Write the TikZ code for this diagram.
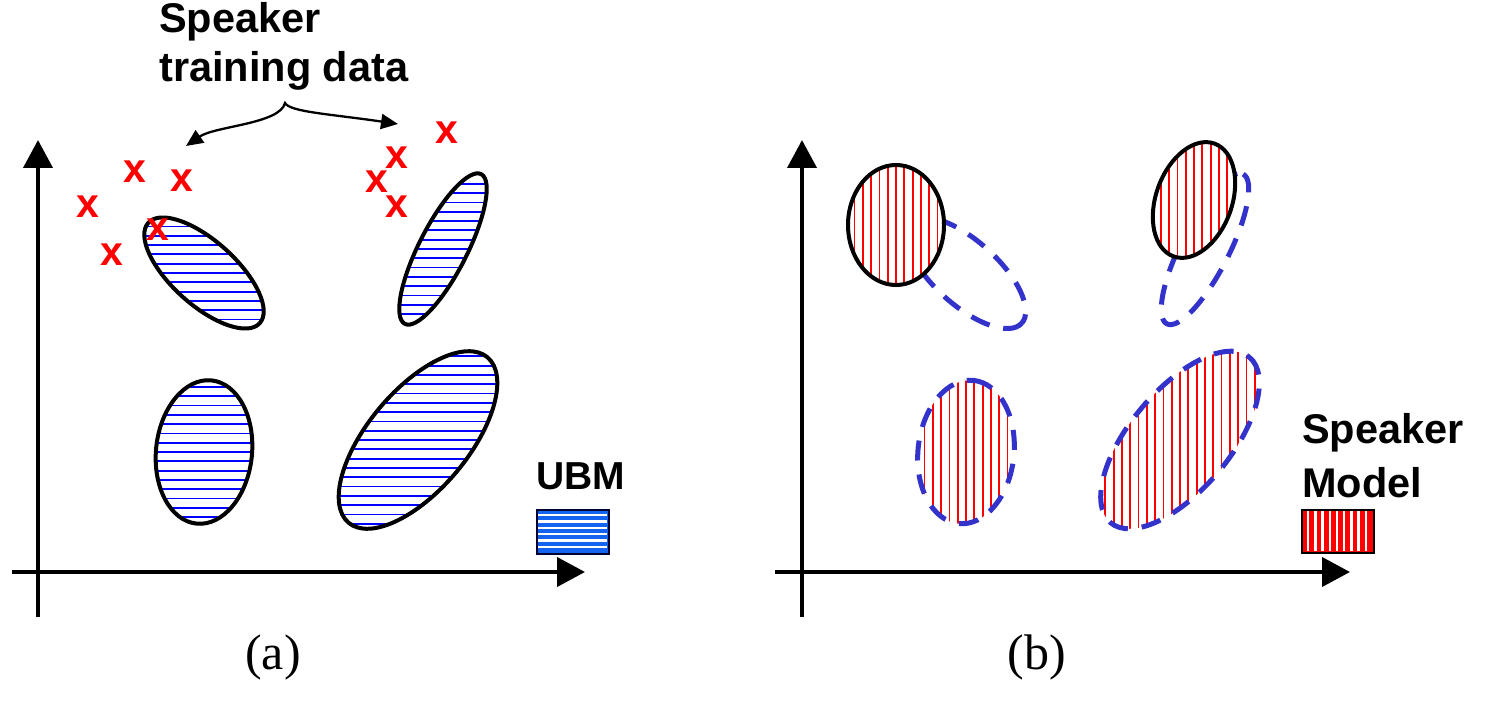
\documentclass[tikz,border=0pt]{standalone}
\usepackage{fontspec}
\setmainfont{Liberation Serif}
\newfontfamily\lsans{Liberation Sans}
\usetikzlibrary{arrows.meta}
\definecolor{hatchblue}{RGB}{0,0,255}
\definecolor{dashblue}{RGB}{51,51,204}
\definecolor{ubmblue}{RGB}{20,100,240}
\definecolor{spkred}{RGB}{255,0,0}
\tikzset{
  axis/.style={line width=4pt, -{Triangle[length=28pt,width=29pt]}},
  outline/.style={line width=4pt, draw=black},
  dashell/.style={line width=5pt, draw=dashblue, dash pattern=on 20pt off 14pt},
  hatchline/.style={line width=1.8pt, draw=hatchblue},
  stripeline/.style={line width=1.8pt, draw=spkred},
  label/.style={font=\lsans\bfseries\fontsize{41.5}{46}\selectfont, inner sep=0pt},
  shortlabel/.style={font=\lsans\bfseries\fontsize{39}{44}\selectfont, inner sep=0pt},
  cross/.style={font=\lsans\bfseries\fontsize{41}{44}\selectfont, text=spkred, inner sep=0pt},
  caption/.style={font=\fontsize{50}{56}\selectfont, inner sep=0pt},
  pointer/.style={line width=2.3pt, {Triangle[length=17pt,width=15pt]}-{Triangle[length=17pt,width=15pt]}},
}
% #1 cx, #2 cy, #3 a, #4 b, #5 angle
\newcommand{\hhatchell}[5]{%
  \begin{scope}
    \clip[rotate around={#5:(#1,#2)}] (#1,#2) ellipse (#3 and #4);
    \foreach \k in {-14,...,14} \draw[hatchline] (#1-130,#2+\k*9.3) -- ++(260,0);
  \end{scope}}
\newcommand{\vhatchell}[5]{%
  \begin{scope}
    \clip[rotate around={#5:(#1,#2)}] (#1,#2) ellipse (#3 and #4);
    \foreach \k in {-16,...,16} \draw[stripeline] (#1+\k*8.3,#2-130) -- ++(0,260);
  \end{scope}}
\newcommand{\ellpath}[6]{\draw[#6, rotate around={#5:(#1,#2)}] (#1,#2) ellipse (#3 and #4);}

\begin{document}
\begin{tikzpicture}[x=1pt,y=-1pt]
\useasboundingbox (0,0) rectangle (1493,703);

% ---------------- panel (a) ----------------
\draw[axis] (38,617) -- (38,140);
\draw[axis] (12,572) -- (585,572);

% UBM ellipses
\hhatchell{204}{273}{75}{32}{-42}
\ellpath{204}{273}{75}{32}{-42}{outline}
\hhatchell{443}{249}{84}{24}{63}
\ellpath{443}{249}{84}{24}{63}{outline}
\hhatchell{204}{452}{72}{48}{84}
\ellpath{204}{452}{72}{48}{84}{outline}
\hhatchell{418}{440}{108}{50}{50}
\ellpath{418}{440}{108}{50}{50}{outline}

% training data crosses
\node[cross] (x1) at (135,172) {x};
\node[cross] (x2) at (182,181) {x};
\node[cross] (x3) at (88,207) {x};
\node[cross] (x4) at (158,230) {x};
\node[cross] (x5) at (112,255) {x};
\node[cross] (x6) at (447,133) {x};
\node[cross] (x7) at (397,158) {x};
\node[cross] (x8) at (377,182) {x};
\node[cross] (x9) at (397,207) {x};

% label and pointer
\node[label, anchor=base west] (sp1) at (159,33) {Speaker};
\node[label, anchor=base west] (sp2) at (159,82) {training data};
\coordinate (cusp) at (285,103);
\coordinate (tl) at (186,146);
\coordinate (tr) at (398,124);
\draw[pointer] (tl) .. controls (215,126) and (280,124) .. (cusp)
               .. controls (290,112) and (330,114) .. (tr);

% UBM legend
\node[shortlabel, anchor=base west] (ubm) at (536,489) {UBM};
\node[fill=ubmblue, minimum width=72pt, minimum height=44pt, inner sep=0pt, anchor=north west] (ubmbox) at (536,509) {};
\foreach \k in {1,...,6} \draw[white, line width=2.3pt] ([xshift=1pt,yshift=-\k*6.3pt]ubmbox.north west) -- ([xshift=-1pt,yshift=-\k*6.3pt]ubmbox.north east);
\node[draw=black!80!blue, line width=1.5pt, minimum width=72pt, minimum height=44pt, inner sep=0pt, anchor=north west] (ubmframe) at (536,509) {};

\node[caption] (capa) at (273,657) {(a)};

% ---------------- panel (b) ----------------
\draw[axis] (802,617) -- (802,140);
\draw[axis] (775,572) -- (1350,572);

% upper UBM (dashed) behind speaker ellipses
\ellpath{966}{273}{75}{32}{-42}{dashell}
\ellpath{1205}{249}{84}{24}{63}{dashell}

% upper speaker ellipses
\fill[white] (896,225) ellipse (48 and 60);
\vhatchell{896}{225}{48}{60}{0}
\ellpath{896}{225}{48}{60}{0}{outline}
\fill[white, rotate around={70:(1194,200)}] (1194,200) ellipse (60 and 38);
\vhatchell{1194}{200}{60}{38}{70}
\ellpath{1194}{200}{60}{38}{70}{outline}

% lower: speaker model coincides with UBM
\vhatchell{966}{452}{72}{48}{84}
\ellpath{966}{452}{72}{48}{84}{dashell}
\vhatchell{1180}{440}{108}{50}{50}
\ellpath{1180}{440}{108}{50}{50}{dashell}

% Speaker model legend
\node[label, anchor=base west] (sm1) at (1302,443) {Speaker};
\node[label, anchor=base west] (sm2) at (1302,497) {Model};
\node[fill=spkred, minimum width=72pt, minimum height=43pt, inner sep=0pt, anchor=north west] (smbox) at (1301,509) {};
\foreach \k in {1,...,9} \draw[white, line width=2.3pt] ([xshift=\k*7.2pt,yshift=-1pt]smbox.north west) -- ([xshift=\k*7.2pt,yshift=1pt]smbox.south west);
\node[draw=black, line width=1.5pt, minimum width=72pt, minimum height=43pt, inner sep=0pt, anchor=north west] (smframe) at (1301,509) {};

\node[caption] (capb) at (1037,657) {(b)};
\end{tikzpicture}
\end{document}
